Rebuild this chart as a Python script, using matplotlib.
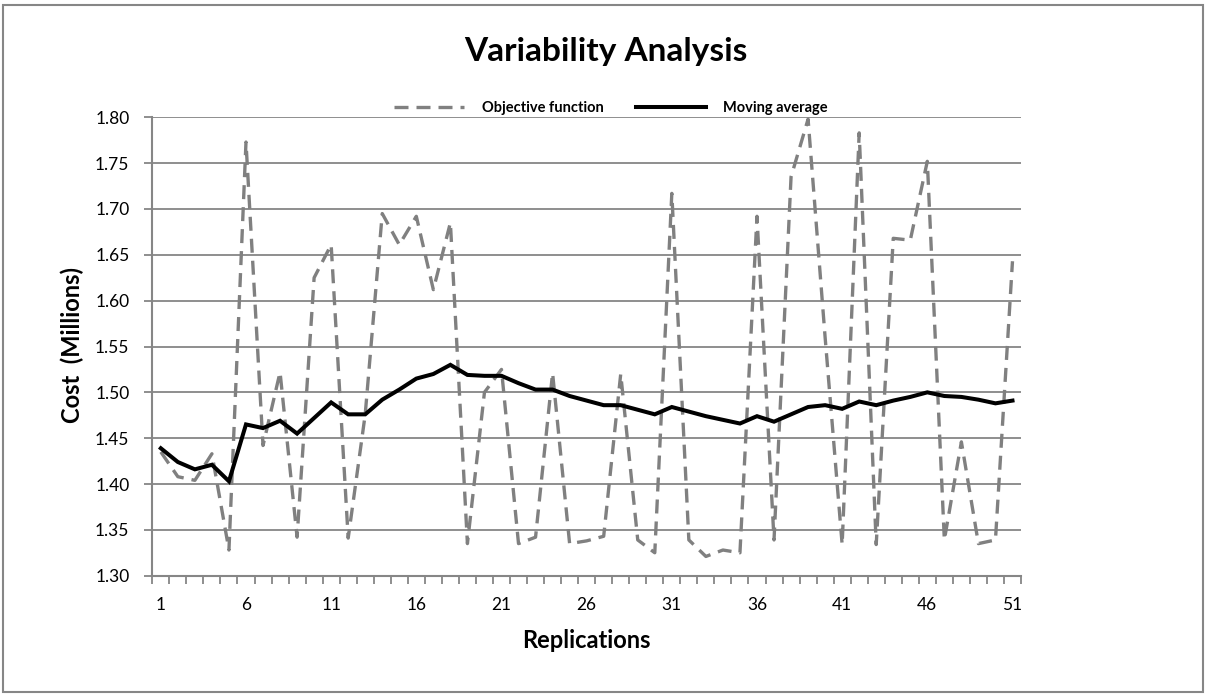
import matplotlib
matplotlib.use("Agg")
import matplotlib.pyplot as plt
from matplotlib.patches import Rectangle

plt.rcParams['font.family'] = ['Lato', 'DejaVu Sans']

replications = list(range(1, 52))
objective = [1.435, 1.408, 1.404, 1.433, 1.328, 1.773, 1.442, 1.522, 1.342, 1.625,
             1.661, 1.341, 1.476, 1.695, 1.661, 1.692, 1.612, 1.685, 1.335, 1.500,
             1.525, 1.335, 1.342, 1.521, 1.335, 1.338, 1.343, 1.520, 1.339, 1.325,
             1.717, 1.339, 1.321, 1.328, 1.325, 1.692, 1.339, 1.735, 1.798, 1.560,
             1.334, 1.783, 1.334, 1.668, 1.666, 1.752, 1.339, 1.446, 1.335, 1.339,
             1.643]
moving_avg = [1.439, 1.424, 1.416, 1.421, 1.403, 1.465, 1.461, 1.469, 1.455, 1.472,
              1.489, 1.476, 1.476, 1.492, 1.503, 1.515, 1.520, 1.530, 1.519, 1.518,
              1.518, 1.510, 1.503, 1.503, 1.496, 1.491, 1.486, 1.486, 1.481, 1.476,
              1.484, 1.479, 1.474, 1.470, 1.466, 1.474, 1.468, 1.476, 1.484, 1.486,
              1.482, 1.490, 1.486, 1.491, 1.495, 1.500, 1.496, 1.495, 1.492, 1.488,
              1.491]
y_ticks = [1.30, 1.35, 1.40, 1.45, 1.50, 1.55, 1.60, 1.65, 1.70, 1.75, 1.80]
x_tick_labels = [1, 6, 11, 16, 21, 26, 31, 36, 41, 46, 51]

W, H = 1206, 695
fig = plt.figure(figsize=(W / 100, H / 100), dpi=100)
fig.patch.set_facecolor('white')
fig.patches.append(Rectangle((3 / W, 3 / H), (W - 6) / W, (H - 8) / H,
                             transform=fig.transFigure, fill=False,
                             edgecolor='#868686', linewidth=1.5))

ax = fig.add_axes([152.3 / W, 119.3 / H, (1021 - 152.3) / W, (575.7 - 117.3) / H])
grid_col = '#868686'

l1, = ax.plot(replications, objective, color='#808080', linewidth=2.4,
              linestyle=(0, (4.2, 2.4)), zorder=3)
l2, = ax.plot(replications, moving_avg, color='black', linewidth=2.9,
              solid_joinstyle='miter', zorder=4)

ax.set_xlim(0.5, 51.5)
ax.set_ylim(1.30, 1.80)
ax.set_yticks(y_ticks)
ax.set_yticklabels([f"{v:.2f}" for v in y_ticks], fontsize=12.5)
ax.yaxis.grid(True, color=grid_col, linewidth=1.3)
ax.set_axisbelow(True)

# category boundaries as tick marks, labels at centres
ax.set_xticks([i + 0.5 for i in range(0, 52)])
ax.set_xticklabels([])
ax.set_xticks(x_tick_labels, minor=True)
ax.set_xticklabels([str(v) for v in x_tick_labels], minor=True, fontsize=12.5)
ax.tick_params(axis='x', which='major', direction='out', length=6, width=1.3, color=grid_col)
ax.tick_params(axis='x', which='minor', length=0, pad=15)
ax.tick_params(axis='y', direction='out', length=6, width=1.3, color=grid_col, pad=10.5)

for s in ['top', 'right']:
    ax.spines[s].set_visible(False)
for s in ['left', 'bottom']:
    ax.spines[s].set_color(grid_col)
    ax.spines[s].set_linewidth(1.5)

fig.text(586 / W, 1 - 640 / H, 'Replications', fontsize=17, fontweight='bold',
         ha='center', va='center')
fig.text(72.5 / W, 1 - 345 / H, 'Cost  (Millions)', fontsize=17, fontweight='bold',
         ha='center', va='center', rotation=90)

fig.text(606 / W, 1 - 51 / H, 'Variability Analysis', fontsize=24, fontweight='bold',
         ha='center', va='center')

leg = fig.legend([l1, l2], ['Objective function', 'Moving average'], ncol=2,
                 loc='center', bbox_to_anchor=(611 / W, 1 - 108 / H), frameon=False,
                 prop={'weight': 'bold', 'size': 10.5}, handlelength=4.8,
                 columnspacing=2.2, handletextpad=1.2)

fig.savefig('out.png', dpi=100)
